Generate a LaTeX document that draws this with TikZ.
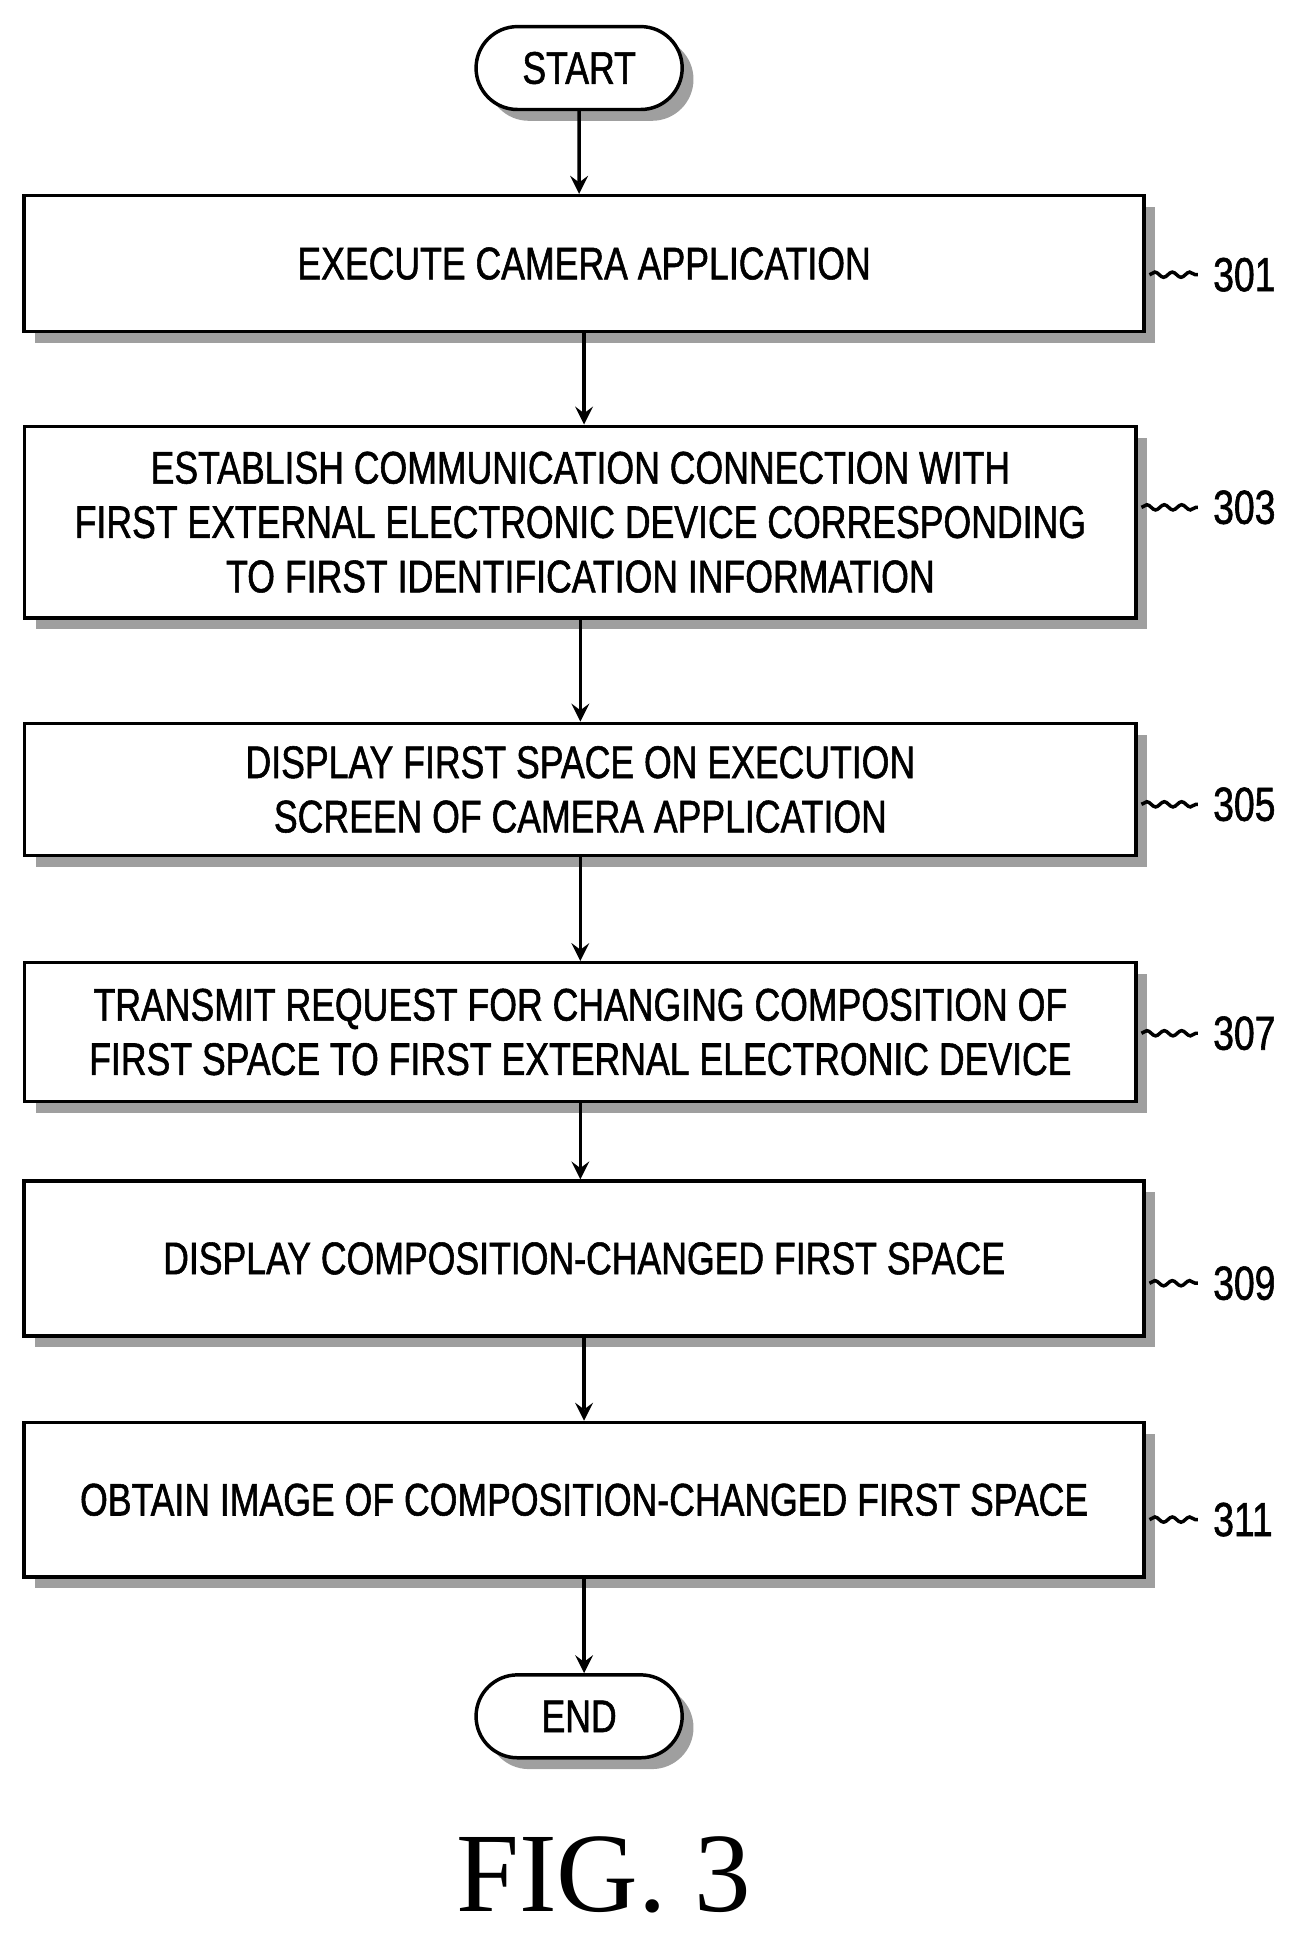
\documentclass[tikz,border=0pt]{standalone}
\usepackage{fontspec}
\setmainfont{Liberation Serif}
\newfontfamily\condsans[FakeStretch=0.78,FakeBold=1.2]{Liberation Sans}
\usetikzlibrary{shapes.misc,shadows,decorations.pathmorphing}

\tikzset{
  stepbox/.style={draw, thick, fill=white, minimum width=#1, align=center,
    font=\condsans\fontsize{10.5}{12.5}\selectfont,
    drop shadow={shadow xshift=2.6pt, shadow yshift=-2.6pt, fill=gray!75, opacity=1}},
  termbox/.style={draw, thick, fill=white, rounded rectangle, minimum width=1.9cm,
    minimum height=0.67cm, font=\condsans\fontsize{10.5}{12.5}\selectfont,
    drop shadow={shadow xshift=2.6pt, shadow yshift=-2.6pt, fill=gray!75, opacity=1}},
  steplabel/.style={anchor=west, font=\condsans\fontsize{11}{13}\selectfont},
  leader/.style={thick, decorate, decoration={snake, amplitude=0.6pt, segment length=4pt}},
  flow/.style={thick, -stealth}
}

\begin{document}
\begin{tikzpicture}
        \useasboundingbox (0,0) rectangle (10.45,-15.71);

        \node [termbox]                          (start) at (4.68,-0.55)  {START};
        \node [stepbox=9.05cm, minimum height=1.10cm] (s301) at (4.72,-2.13)  {EXECUTE CAMERA APPLICATION};
        \node [stepbox=8.98cm, minimum height=1.55cm] (s303) at (4.69,-4.22)  {ESTABLISH COMMUNICATION CONNECTION WITH\\FIRST EXTERNAL ELECTRONIC DEVICE CORRESPONDING\\TO FIRST IDENTIFICATION INFORMATION};
        \node [stepbox=8.98cm, minimum height=1.07cm] (s305) at (4.69,-6.38)  {DISPLAY FIRST SPACE ON EXECUTION\\SCREEN OF CAMERA APPLICATION};
        \node [stepbox=8.98cm, minimum height=1.12cm] (s307) at (4.69,-8.34)  {TRANSMIT REQUEST FOR CHANGING COMPOSITION OF\\FIRST SPACE TO FIRST EXTERNAL ELECTRONIC DEVICE};
        \node [stepbox=9.05cm, minimum height=1.25cm] (s309) at (4.72,-10.17) {DISPLAY COMPOSITION-CHANGED FIRST SPACE};
        \node [stepbox=9.05cm, minimum height=1.25cm] (s311) at (4.72,-12.12) {OBTAIN IMAGE OF COMPOSITION-CHANGED FIRST SPACE};
        \node [termbox]                          (end)   at (4.68,-13.87) {END};

        \draw [flow] (start) -- (start |- s301.north);
        \draw [flow] (s301)  -- (s301 |- s303.north);
        \draw [flow] (s303)  -- (s303 |- s305.north);
        \draw [flow] (s305)  -- (s305 |- s307.north);
        \draw [flow] (s307)  -- (s307 |- s309.north);
        \draw [flow] (s309)  -- (s309 |- s311.north);
        \draw [flow] (s311)  -- (s311 |- end.north);

        \foreach \s/\y in {301/-2.22, 303/-4.10, 305/-6.50, 307/-8.35, 309/-10.37, 311/-12.28} {
          \node [steplabel] (l\s) at (9.68,\y) {\s};
          \draw [leader] (s\s.east |- l\s.west) ++(0.03,0) -- (l\s.west);
        }

        \node [font=\fontsize{26}{30}\selectfont] (fig) at (4.88,-15.15) {FIG.\ 3};
      \end{tikzpicture}
\end{document}
